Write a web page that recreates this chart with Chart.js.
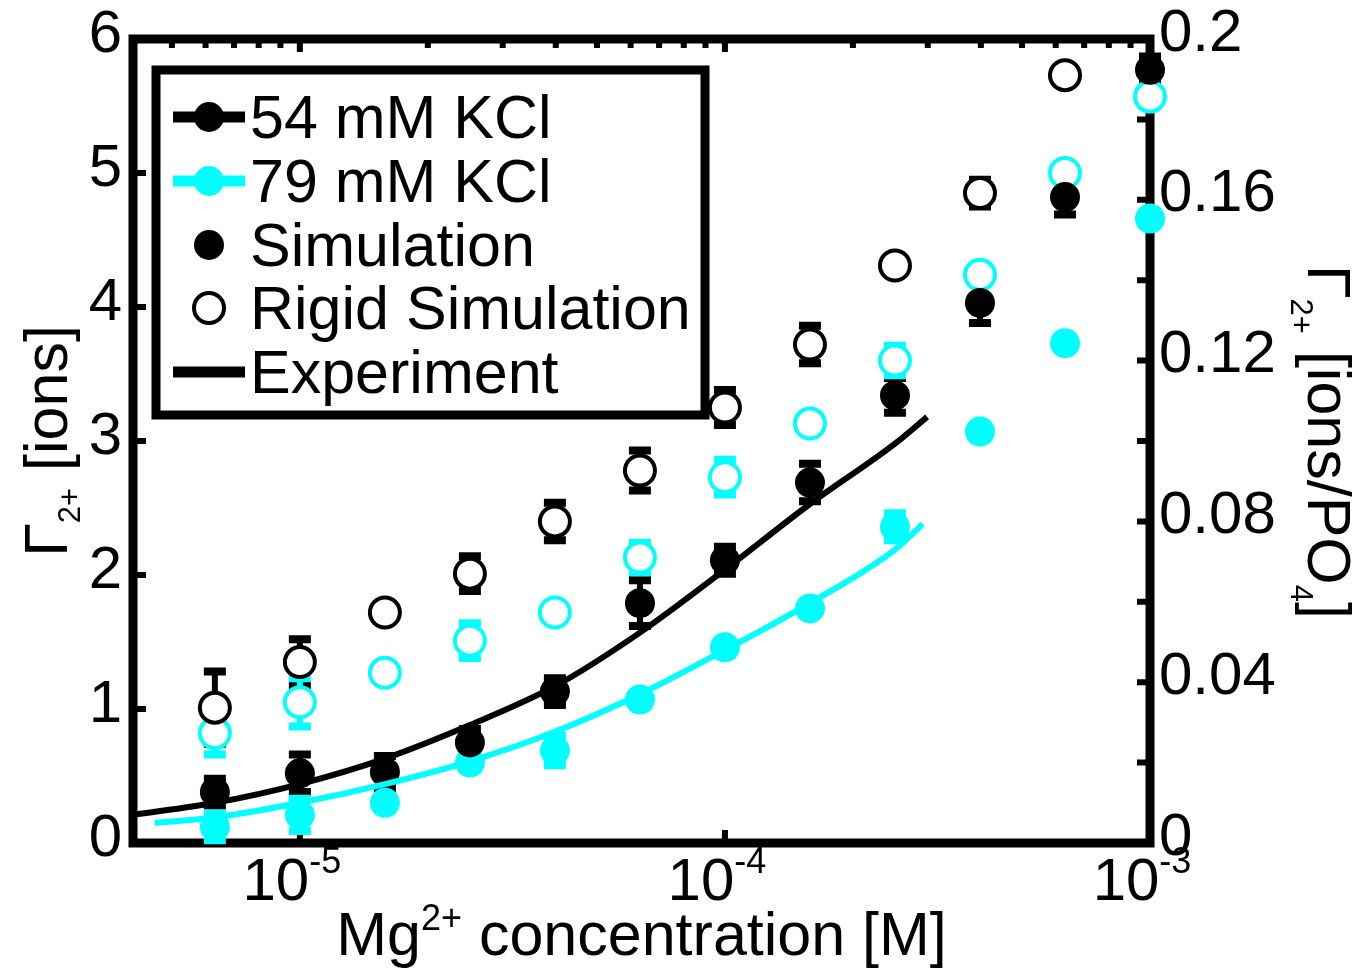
<!DOCTYPE html>
<html>
<head>
<meta charset="utf-8">
<style>
  html, body { margin: 0; padding: 0; background: #fff; }
</style>
<script src="https://cdn.jsdelivr.net/npm/chart.js@4.4.1/dist/chart.umd.min.js"></script>
</head>
<body>
<canvas id="chart" width="1371" height="969"></canvas>
<script>
// Mg2+ concentration [M] for the simulation points
const mgConc = [6.31e-6, 1e-5, 1.585e-5, 2.512e-5, 3.981e-5, 6.31e-5, 1e-4, 1.585e-4, 2.512e-4, 3.981e-4, 6.31e-4, 1e-3];

// 54 mM KCl
const sim54 = [0.38, 0.52, 0.53, 0.75, 1.13, 1.79, 2.11, 2.69, 3.34, 4.03, 4.82, 5.77];
const sim54Err = [0.1, 0.14, 0.12, 0.1, 0.1, 0.17, 0.1, 0.14, 0.13, 0.15, 0.13, 0.1];
const rigid54 = [1.01, 1.35, 1.72, 2.01, 2.40, 2.78, 3.25, 3.72, 4.31, 4.85, 5.73];
const rigid54Err = [0.27, 0.17, 0.05, 0.13, 0.14, 0.15, 0.13, 0.14, 0.06, 0.1, 0.05];

// 79 mM KCl
const sim79 = [0.12, 0.21, 0.30, 0.60, 0.69, 1.07, 1.46, 1.75, 2.36, 3.07, 3.73, 4.66];
const sim79Err = [0.1, 0.12, 0.05, 0.05, 0.11, 0.05, 0.05, 0.05, 0.1, 0.05, 0.05, 0.05];
const rigid79 = [0.82, 1.05, 1.27, 1.51, 1.72, 2.13, 2.73, 3.13, 3.60, 4.24, 5.00, 5.57];
const rigid79Err = [0.16, 0.18, 0.05, 0.13, 0.05, 0.11, 0.13, 0.05, 0.11, 0.05, 0.05, 0.05];

// experiment curves
const exp54Conc = [4.05e-6, 6.31e-6, 1e-5, 1.585e-5, 2.512e-5, 3.981e-5, 6.31e-5, 1e-4, 1.585e-4, 2.512e-4, 2.99e-4];
const exp54 = [0.21, 0.30, 0.44, 0.63, 0.88, 1.17, 1.57, 2.04, 2.53, 2.98, 3.18];
const exp79Conc = [4.56e-6, 6.31e-6, 1e-5, 1.585e-5, 2.512e-5, 3.981e-5, 6.31e-5, 1e-4, 1.585e-4, 2.512e-4, 2.92e-4];
const exp79 = [0.15, 0.19, 0.30, 0.44, 0.61, 0.83, 1.11, 1.44, 1.79, 2.19, 2.38];

const xTickValues = [1e-5, 1e-4, 1e-3];
const xTickExponents = ['-5', '-4', '-3'];
const legendLabels = ['54 mM KCl', '79 mM KCl', 'Simulation', 'Rigid Simulation', 'Experiment'];

const BLACK = '#000000';
const CYAN = '#00ffff';
const FONT = "'Liberation Sans', Arial, Helvetica, sans-serif";

function pts(xs, ys) {
  return ys.map((y, i) => ({ x: xs[i], y: y }));
}

// box, inward ticks, then all error bars under the markers
const frame = {
  id: 'frame',
  beforeDatasetsDraw(chart) {
    const ctx = chart.ctx;
    const a = chart.chartArea;
    const x = chart.scales.x, y = chart.scales.y, y2 = chart.scales.y2;
    ctx.save();
    ctx.strokeStyle = BLACK;
    ctx.lineWidth = 6;
    ctx.beginPath();
    for (let v = 1; v <= 5; v++) {
      const p = y.getPixelForValue(v);
      ctx.moveTo(a.left, p); ctx.lineTo(a.left + 13, p);
    }
    for (let k = 1; k <= 9; k++) {
      const p = y2.getPixelForValue(k * 0.02);
      ctx.moveTo(a.right, p); ctx.lineTo(a.right - 13, p);
    }
    xTickValues.forEach(v => {
      const p = x.getPixelForValue(v);
      ctx.moveTo(p, a.bottom); ctx.lineTo(p, a.bottom - 13);
      ctx.moveTo(p, a.top); ctx.lineTo(p, a.top + 13);
    });
    for (let d = -6; d <= -4; d++) {
      for (let k = 2; k <= 9; k++) {
        const v = k * Math.pow(10, d);
        if (v < x.min || v > x.max) continue;
        const p = x.getPixelForValue(v);
        ctx.moveTo(p, a.top); ctx.lineTo(p, a.top + 9);
      }
    }
    ctx.stroke();
    ctx.lineWidth = 9;
    ctx.lineJoin = 'miter';
    ctx.strokeRect(a.left, a.top, a.right - a.left, a.bottom - a.top);

    // error bars
    chart.data.datasets.forEach((ds, di) => {
      if (!ds.errors) return;
      const meta = chart.getDatasetMeta(di);
      ctx.strokeStyle = ds.errColor;
      meta.data.forEach((el, i) => {
        const v = ds.data[i].y, e = ds.errors[i];
        const y1 = y.getPixelForValue(v + e);
        const yb = y.getPixelForValue(v - e);
        ctx.lineWidth = 6;
        ctx.beginPath();
        ctx.moveTo(el.x, y1); ctx.lineTo(el.x, yb);
        ctx.stroke();
        ctx.lineWidth = 8;
        ctx.beginPath();
        ctx.moveTo(el.x - 11, y1); ctx.lineTo(el.x + 11, y1);
        ctx.moveTo(el.x - 11, yb); ctx.lineTo(el.x + 11, yb);
        ctx.stroke();
      });
    });
    ctx.restore();
  }
};

function richWidth(ctx, parts) {
  let w = 0;
  parts.forEach(p => { ctx.font = p.size + 'px ' + FONT; w += ctx.measureText(p.t).width; });
  return w;
}
function drawRich(ctx, parts, x, y) {
  let cx = x;
  parts.forEach(p => {
    ctx.font = p.size + 'px ' + FONT;
    ctx.fillText(p.t, cx, y + (p.dy || 0));
    cx += ctx.measureText(p.t).width;
  });
}

// tick labels with exponents, axis titles, legend
const annotations = {
  id: 'annotations',
  afterDraw(chart) {
    const ctx = chart.ctx;
    const a = chart.chartArea;
    const x = chart.scales.x;
    ctx.save();
    ctx.fillStyle = BLACK;
    ctx.textBaseline = 'alphabetic';
    ctx.textAlign = 'left';

    xTickValues.forEach((v, i) => {
      const parts = [{ t: '10', size: 60 }, { t: xTickExponents[i], size: 36, dy: -27 }];
      const w = richWidth(ctx, parts);
      drawRich(ctx, parts, x.getPixelForValue(v) - w / 2 - 8, 900);
    });

    const xt = [{ t: 'Mg', size: 61 }, { t: '2+', size: 36, dy: -25 }, { t: ' concentration [M]', size: 61 }];
    drawRich(ctx, xt, (a.left + a.right) / 2 - richWidth(ctx, xt) / 2, 955);

    const yt = [{ t: 'Γ', size: 61 }, { t: '2+', size: 31, dy: 13 }, { t: ' [ions]', size: 61 }];
    ctx.save();
    ctx.translate(67, 441);
    ctx.rotate(-Math.PI / 2);
    drawRich(ctx, yt, -richWidth(ctx, yt) / 2, 0);
    ctx.restore();

    const y2t = [{ t: 'Γ', size: 61 }, { t: '2+', size: 31, dy: 17 }, { t: ' [ions/PO', size: 61 }, { t: '4', size: 31, dy: 17 }, { t: ']', size: 61 }];
    ctx.save();
    ctx.translate(1308, 442);
    ctx.rotate(Math.PI / 2);
    drawRich(ctx, y2t, -richWidth(ctx, y2t) / 2, 0);
    ctx.restore();

    // legend box
    ctx.fillStyle = '#ffffff';
    ctx.fillRect(156, 70, 549, 345);
    ctx.strokeStyle = BLACK;
    ctx.lineWidth = 9;
    ctx.strokeRect(156, 70, 549, 345);

    const rows = [117, 181, 245, 308, 372];
    const sx1 = 173, sx2 = 245, mx = 209;
    ctx.lineCap = 'butt';
    [BLACK, CYAN].forEach((c, i) => {
      ctx.strokeStyle = c; ctx.fillStyle = c; ctx.lineWidth = 11;
      ctx.beginPath(); ctx.moveTo(sx1, rows[i]); ctx.lineTo(sx2, rows[i]); ctx.stroke();
      ctx.beginPath(); ctx.arc(mx, rows[i], 15, 0, Math.PI * 2); ctx.fill();
    });
    ctx.fillStyle = BLACK;
    ctx.beginPath(); ctx.arc(mx, rows[2], 15, 0, Math.PI * 2); ctx.fill();
    ctx.strokeStyle = BLACK; ctx.lineWidth = 4;
    ctx.beginPath(); ctx.arc(mx, rows[3], 15, 0, Math.PI * 2); ctx.stroke();
    ctx.lineWidth = 11;
    ctx.beginPath(); ctx.moveTo(sx1, rows[4]); ctx.lineTo(sx2, rows[4]); ctx.stroke();

    ctx.fillStyle = BLACK;
    ctx.font = '61px ' + FONT;
    legendLabels.forEach((t, i) => ctx.fillText(t, 250, rows[i] + 21));
    ctx.restore();
  }
};

const ctx = document.getElementById('chart').getContext('2d');

const data = {
  datasets: [
    { label: 'Experiment 54', type: 'line', data: pts(exp54Conc, exp54), borderColor: BLACK, borderWidth: 6,
      pointRadius: 0, cubicInterpolationMode: 'monotone', fill: false, order: 1 },
    { label: 'Experiment 79', type: 'line', data: pts(exp79Conc, exp79), borderColor: CYAN, borderWidth: 6,
      pointRadius: 0, cubicInterpolationMode: 'monotone', fill: false, order: 2 },
    { label: 'Simulation 54', data: pts(mgConc, sim54), errors: sim54Err, errColor: BLACK,
      pointRadius: 15, pointBackgroundColor: BLACK, pointBorderWidth: 0, order: 3 },
    { label: 'Rigid 54', data: pts(mgConc, rigid54), errors: rigid54Err, errColor: BLACK,
      pointRadius: 15, pointBackgroundColor: '#ffffff', pointBorderColor: BLACK, pointBorderWidth: 4, order: 4 },
    { label: 'Simulation 79', data: pts(mgConc, sim79), errors: sim79Err, errColor: CYAN,
      pointRadius: 15, pointBackgroundColor: CYAN, pointBorderWidth: 0, order: 5 },
    { label: 'Rigid 79', data: pts(mgConc, rigid79), errors: rigid79Err, errColor: CYAN,
      pointRadius: 15, pointBackgroundColor: '#ffffff', pointBorderColor: CYAN, pointBorderWidth: 4, order: 6 },
  ],
};

function fixWidth(w) {
  return function (scale) {
    scale.width = w;
    scale.paddingTop = 0;
    scale.paddingBottom = 0;
  };
}

const config = {
  type: 'scatter',
  data: data,
  options: {
    responsive: false,
    animation: false,
    events: [],
    clip: false,
    layout: { padding: { top: 39, left: 0, right: 0, bottom: 0 } },
    plugins: { legend: { display: false }, tooltip: { enabled: false } },
    scales: {
      x: {
        type: 'logarithmic', min: 4.05e-6, max: 1e-3,
        ticks: { display: false }, grid: { display: false }, border: { display: false },
        afterFit: function (scale) { scale.height = 126; scale.paddingLeft = 0; scale.paddingRight = 0; },
      },
      y: {
        position: 'left', min: 0, max: 6,
        ticks: { stepSize: 1, color: BLACK, padding: 3, labelOffset: -4, font: { family: FONT, size: 60 } },
        grid: { display: false }, border: { display: false },
        afterFit: fixWidth(133),
      },
      y2: {
        position: 'right', min: 0, max: 0.2,
        ticks: {
          stepSize: 0.02, color: BLACK, padding: 1, labelOffset: -5, font: { family: FONT, size: 60 },
          callback: function (value) {
            const k = Math.round(value * 100);
            return k % 4 === 0 ? String(k / 100) : '';
          },
        },
        grid: { display: false }, border: { display: false },
        afterFit: fixWidth(221),
      },
    },
  },
  plugins: [frame, annotations],
};

const myChart = new Chart(ctx, config);
</script>
</body>
</html>
